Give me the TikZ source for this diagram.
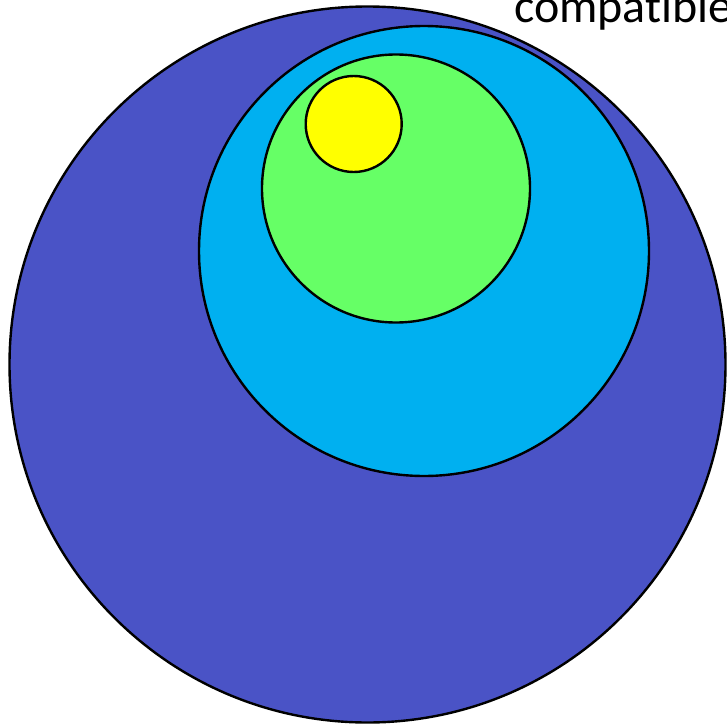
\documentclass[tikz,border=0pt]{standalone}
\usepackage{fontspec}
\setmainfont{Carlito}[Ligatures={NoCommon}]
\definecolor{bigblue}{RGB}{74,83,198}
\definecolor{midcyan}{RGB}{0,176,240}
\definecolor{litegreen}{RGB}{102,255,102}
\definecolor{sunyellow}{RGB}{255,255,0}
\begin{document}
\begin{tikzpicture}[x=1pt,y=-1pt,
  ring/.style={draw=black,line width=2.4pt}]
\useasboundingbox (0,0) rectangle (726,728);
\node[ring,fill=bigblue,circle,minimum size=716pt,inner sep=0pt] (big) at (367.5,364.5) {};
\node[ring,fill=midcyan,circle,minimum size=450pt,inner sep=0pt] (cyan) at (424,251) {};
\node[ring,fill=litegreen,circle,minimum size=268pt,inner sep=0pt] (green) at (396,188.5) {};
\node[ring,fill=sunyellow,circle,minimum size=96pt,inner sep=0pt] (yellow) at (353.7,124) {};
\node[anchor=base west,inner sep=0pt,font=\fontsize{48}{52}\selectfont] (lbl) at (514,23) {compatible};
\end{tikzpicture}
\end{document}
